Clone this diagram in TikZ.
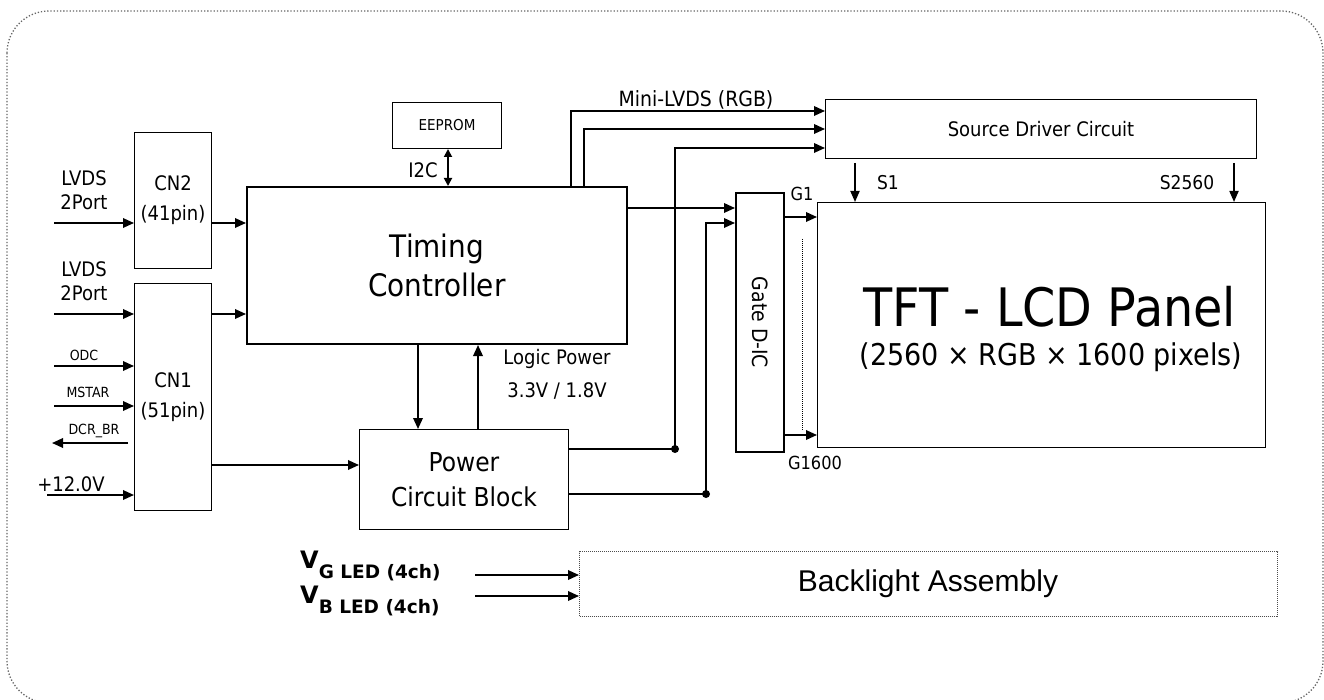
\documentclass[tikz,border=0pt]{standalone}
\usepackage{fontspec}
\setmainfont{DejaVu Sans Condensed}
\newfontfamily\arialf{Liberation Sans}
\newfontfamily\verdf{DejaVu Sans}
\usetikzlibrary{arrows.meta}
\newcommand\fsz[2]{\fontsize{#1pt}{#2pt}\selectfont}
\begin{document}
\begin{tikzpicture}[x=1pt,y=-1pt,
  box/.style={draw, line width=1pt, inner sep=0pt, anchor=north west, align=center},
  tbox/.style={box, line width=2pt},
  wire/.style={line width=1.8pt},
  arr/.style={wire, -{Triangle[length=11pt,width=9.5pt]}},
  darr/.style={wire, {Triangle[length=8pt,width=8pt]}-{Triangle[length=8pt,width=8pt]}},
  lbl/.style={inner sep=0pt, align=center},
  dot/.style={circle, fill, inner sep=0pt, minimum size=8pt}
]
\useasboundingbox (0,0) rectangle (1324,700);
\draw[black!60, line width=1.3pt, dash pattern=on 1.3pt off 1.9pt, rounded corners=42pt] (7,11) rectangle (1323,703);

% boxes
\node (cn2) [box, minimum width=77pt, minimum height=136pt, font=\fsz{20}{30}] at (134,132) {CN2\\(41pin)};
\node (cn1) [box, minimum width=77pt, minimum height=227pt, font=\fsz{20}{30}] at (134,283) {CN1\\(51pin)};
\node (tc) [tbox, minimum width=380pt, minimum height=157pt, font=\fsz{31}{39}] at (246,186) {Timing\\Controller};
\node (ee) [box, minimum width=109pt, minimum height=46pt, font=\fsz{15}{18}] at (392,102) {EEPROM};
\node (sd) [box, minimum width=431pt, minimum height=59pt, font=\fsz{20}{24}] at (825,99) {Source Driver Circuit};
\node (panel) [box, minimum width=448pt, minimum height=245pt] at (817,202) {};
\node (gate) [tbox, minimum width=48pt, minimum height=259pt] at (735,192) {};
\node (gatetxt) [lbl, rotate=-90, font=\fsz{21}{24}] at (gate.center) {Gate D-IC};
\node (pw) [box, minimum width=209pt, minimum height=100pt, font=\fsz{26}{35}] at (359,429) {Power\\Circuit Block};
\node (bl) [box, draw=black!70, line width=1pt, dash pattern=on 1pt off 1pt, minimum width=698pt, minimum height=65pt] at (579,551) {};

% texts
\node (tft) [lbl, font=\fsz{53}{60}] at (1050,307) {TFT - LCD Panel};
\node (pix) [lbl, font=\fsz{30}{36}] at (1051,357) {(2560 × RGB × 1600 pixels)};
\node (bltxt) [lbl, font=\arialf\fsz{30}{36}] at (928,584) {Backlight Assembly};
\node (lv1) [lbl, font=\fsz{20}{24}] at (84,190) {LVDS\\2Port};
\node (lv2) [lbl, font=\fsz{20}{24}] at (84,281) {LVDS\\2Port};
\node (odc) [lbl, font=\fsz{14}{16}] at (84,355) {ODC};
\node (mstar) [lbl, font=\fsz{14}{16}] at (88,392) {MSTAR};
\node (dcr) [lbl, font=\fsz{14}{16}] at (94,431) {DCR\_BR};
\node (v12) [lbl, font=\fsz{20}{24}] at (71,484) {+12.0V};
\node (i2c) [lbl, font=\fsz{20}{24}] at (423,170) {I2C};
\node (mini) [lbl, font=\fsz{21}{24}] at (696,100) {Mini-LVDS (RGB)};
\node (s1) [lbl, font=\fsz{19}{22}] at (888,183) {S1};
\node (s2560) [lbl, font=\fsz{19}{22}] at (1187,183) {S2560};
\node (g1) [lbl, font=\fsz{18}{22}] at (802,194) {G1};
\node (g1600) [lbl, font=\fsz{18}{22}] at (815,463) {G1600};
\node (logic) [lbl, font=\fsz{20}{33}] at (557,374) {Logic Power\\3.3V / 1.8V};
\node (vg) [lbl, anchor=base west, font=\verdf\bfseries\fsz{24}{28}] at (300,568) {V\raisebox{-10pt}{\fsz{18.5}{20}G LED (4ch)}};
\node (vb) [lbl, anchor=base west, font=\verdf\bfseries\fsz{24}{28}] at (300,603) {V\raisebox{-10pt}{\fsz{18.5}{20}B LED (4ch)}};

% coordinates
\coordinate (in1) at (54,223);
\coordinate (in2) at (54,314);
\coordinate (in3) at (54,366);
\coordinate (in4) at (54,406);
\coordinate (out1) at (52,443);
\coordinate (in5) at (47,495);
\coordinate (cp) at (0,465);
\coordinate (tg) at (0,208);
\coordinate (m1) at (571,111);
\coordinate (m2) at (584,129);
\coordinate (m3) at (675,148);
\coordinate (d1) at (675,449);
\coordinate (m4) at (706,223);
\coordinate (d2) at (706,494);
\coordinate (dn) at (418,0);
\coordinate (up) at (478,0);
\coordinate (ei) at (448,0);
\coordinate (s1x) at (855,0);
\coordinate (s2x) at (1234,0);
\coordinate (g1y) at (0,217);
\coordinate (g2y) at (0,435);
\coordinate (b1) at (475,575);
\coordinate (b2) at (475,596);

% left inputs
\draw[arr] (in1) -- (in1 -| cn2.west);
\draw[arr] (in2) -- (in2 -| cn1.west);
\draw[arr] (in3) -- (in3 -| cn1.west);
\draw[arr] (in4) -- (in4 -| cn1.west);
\draw[arr] ([xshift=-6pt]out1 -| cn1.west) -- (out1);
\draw[arr] (in5) -- (in5 -| cn1.west);

% connectors to TC / power
\draw[arr] (in1 -| cn2.east) -- (in1 -| tc.west);
\draw[arr] (in2 -| cn1.east) -- (in2 -| tc.west);
\draw[arr] (cp -| cn1.east) -- (cp -| pw.west);
\draw[darr] (ei |- ee.south) -- (ei |- tc.north);
\draw[arr] (dn |- tc.south) -- (dn |- pw.north);
\draw[arr] (up |- pw.north) -- (up |- tc.south);

% mini-LVDS
\draw[arr] (m1 |- tc.north) -- (m1) -- (m1 -| sd.west);
\draw[arr] (m2 |- tc.north) -- (m2) -- (m2 -| sd.west);
\draw[arr] (d1 -| pw.east) -- (d1) -- (m3) -- (m3 -| sd.west);
\node[dot] (dot1) at (d1) {};

% gate
\draw[arr] (tg -| tc.east) -- (tg -| gate.west);
\draw[arr] (d2 -| pw.east) -- (d2) -- (m4) -- (m4 -| gate.west);
\node[dot] (dot2) at (d2) {};
\draw[arr] (g1y -| gate.east) -- (g1y -| panel.west);
\draw[arr] (g2y -| gate.east) -- (g2y -| panel.west);
\draw[line width=1pt, dash pattern=on 1pt off 1pt] (802,239) -- (802,430);

% source to panel
\draw[wire, -{Triangle[length=11pt,width=9pt]}] ([yshift=-4pt]s1x |- sd.south) -- (s1x |- panel.north);
\draw[wire, -{Triangle[length=11pt,width=9pt]}] ([yshift=-4pt]s2x |- sd.south) -- (s2x |- panel.north);

% backlight
\draw[arr] (b1) -- (b1 -| bl.west);
\draw[arr] (b2) -- (b2 -| bl.west);
\end{tikzpicture}
\end{document}
